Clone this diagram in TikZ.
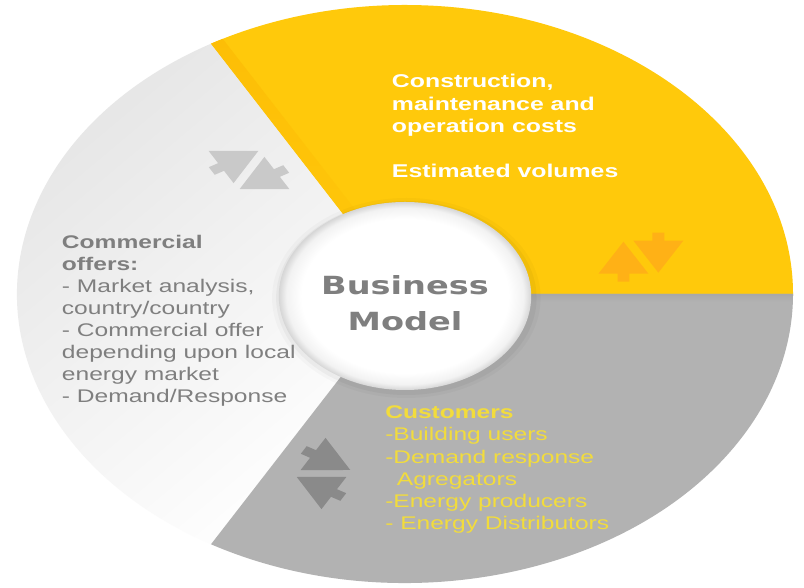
\documentclass[tikz,border=0pt]{standalone}
\usepackage{fontspec}
\setmainfont{Liberation Sans}
\newfontfamily\bmfont{DejaVu Sans}
\definecolor{ylw}{HTML}{FFC90B}
\definecolor{ylwdark}{HTML}{FFB116}
\definecolor{ylwedge}{HTML}{FDBE06}
\definecolor{gry}{HTML}{B2B2B2}
\definecolor{gryedge}{HTML}{A8A8A8}
\definecolor{grydark}{HTML}{8A8A8A}
\definecolor{grylight}{HTML}{C9C9C9}
\definecolor{txtgray}{HTML}{7F7F7F}
\definecolor{custy}{HTML}{F2DC3C}
\definecolor{leftgray}{HTML}{E4E4E4}
\pgfdeclareradialshading{rim}{\pgfpoint{0bp}{0bp}}{color(0bp)=(white); color(20.5bp)=(white); color(23.5bp)=(gray!10); color(25bp)=(gray!32); color(50bp)=(gray!32)}
\tikzset{
  pics/oppose/.style={code={
    \fill[#1] (-17.4,-24.5) -- (-8.6,-24.5) -- (-8.6,-16.5) -- (5.6,-16.5) -- (-13,15.5) -- (-31.6,-16.5) -- (-17.4,-16.5) -- cycle;
    \fill[#1] (17.4,24.5) -- (8.6,24.5) -- (8.6,16.5) -- (-5.6,16.5) -- (13,-15.5) -- (31.6,16.5) -- (17.4,16.5) -- cycle;
  }},
  bodytxt/.style={anchor=base west, inner sep=0pt, align=left},
  regtxt/.style={font=\fontsize{18.3}{22}\selectfont},
}
\begin{document}
\begin{tikzpicture}[x=1pt,y=1pt]
\useasboundingbox (0,0) rectangle (804,588);
\fill[white] (0,0) rectangle (804,588);
\begin{scope}[shift={(405,294)}, xscale=1.3426, transform shape]
  % sectors
  \fill[ylw] (0,0) -- (0:289) arc[start angle=0, end angle=120, radius=289] -- cycle;
  \shade[top color=leftgray, bottom color=white, shading angle=40]
    (0,0) -- (120:289) arc[start angle=120, end angle=240, radius=289] -- cycle;
  \fill[gry] (0,0) -- (240:289) arc[start angle=240, end angle=360, radius=289] -- cycle;
  % soft edge bands
  \begin{scope}
    \clip (0,0) -- (0:289) arc[start angle=0, end angle=120, radius=289] -- cycle;
    \begin{scope}[rotate=120]
      \shade[top color=ylwedge, bottom color=ylw] (0,-10) rectangle (292,0);
    \end{scope}
  \end{scope}
  \begin{scope}
    \clip (0,0) -- (240:289) arc[start angle=240, end angle=360, radius=289] -- cycle;
    \shade[top color=gryedge, bottom color=gry] (0,-8) rectangle (292,0);
  \end{scope}
  % halo of the hub
  \fill[black, opacity=0.025] (1,-4) circle (100);
  \fill[black, opacity=0.035] (1,-4) circle (97);
  % hub
  \node[circle, shade, shading=rim, minimum size=188pt, inner sep=0pt] (hub) at (0,-2) {};
  \node[anchor=base, inner sep=0pt, text=txtgray, font=\bmfont\bfseries\fontsize{25}{30}\selectfont] (bm1) at (0,-0.5) {Business};
  \node[anchor=base, inner sep=0pt, text=txtgray, font=\bmfont\bfseries\fontsize{25}{30}\selectfont] (bm2) at (0,-37) {Model};
  % texts (anchor = baseline of the last line)
  \node[bodytxt, text=white, font=\bfseries\fontsize{18.5}{22.5}\selectfont] (costs) at (-9.9,116)
    {Construction,\\maintenance and\\operation costs\\~\\Estimated volumes};
  \node[bodytxt, regtxt, text=txtgray] (offers) at (-255.7,-108.7)
    {\textbf{Commercial}\\\textbf{offers:}\\- Market analysis,\\country/country\\- Commercial offer\\depending upon local\\energy market\\- Demand/Response};
  \node[bodytxt, text=custy, font=\fontsize{18.3}{22.3}\selectfont] (cust) at (-14.9,-236)
    {\textbf{Customers}\\-Building users\\-Demand response\\\hspace*{8.7pt}Agregators\\-Energy producers\\- Energy Distributors};
  % opposing arrow pairs
  \pic at (175.7,36.8) {oppose=ylwdark};
  \pic[rotate=120] at (-116.2,124) {oppose=grylight};
  \pic[rotate=240] at (-60.7,-179.5) {oppose=grydark};
\end{scope}
\end{tikzpicture}
\end{document}
